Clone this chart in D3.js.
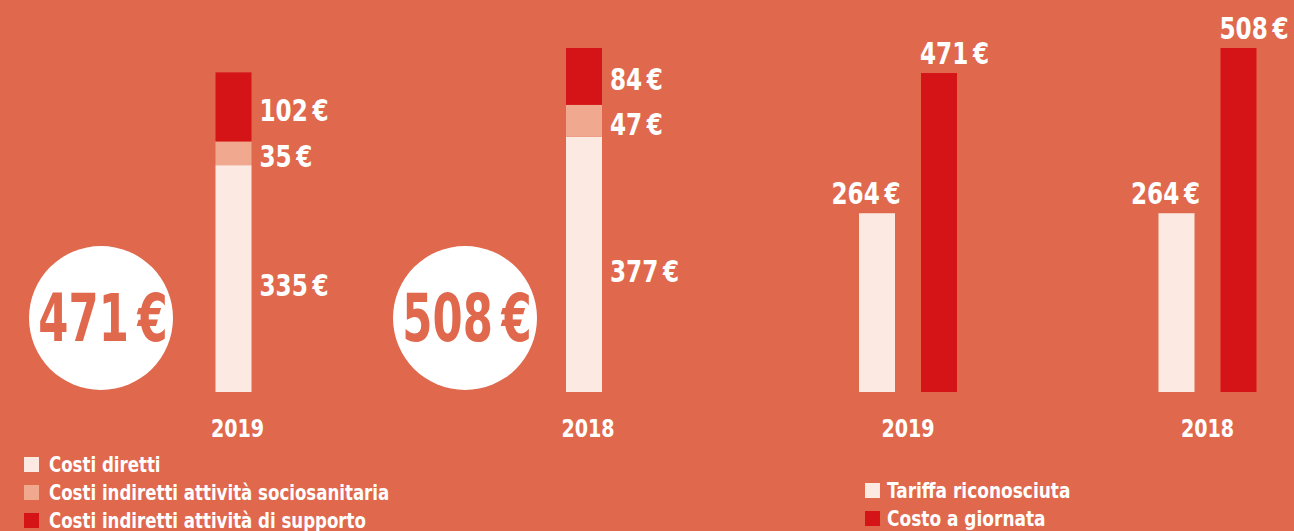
<!DOCTYPE html>
<html><head><meta charset="utf-8">
<script src="https://cdn.jsdelivr.net/npm/d3@7"></script>
<style>
html,body{margin:0;padding:0;background:#E0684D;}
svg{display:block;}
text{font-family:'Liberation Sans Narrow','DejaVu Sans Condensed','Roboto Condensed',sans-serif;font-weight:bold;}
</style></head><body>
<svg id="chart" width="1294" height="531"></svg>
<script>
// ---- data ----
const years = ["2019", "2018"];
const costiDiretti = [335, 377];
const costiIndirettiSocio = [35, 47];
const costiIndirettiSupporto = [102, 84];
const totali = [471, 508];
const tariffaRiconosciuta = [264, 264];
const costoGiornata = [471, 508];
const stackKeys = ["diretti", "socio", "supporto"];
const stackLabels = ["Costi diretti", "Costi indiretti attività sociosanitaria", "Costi indiretti attività di supporto"];
const groupKeys = ["tariffa", "costo"];
const groupLabels = ["Tariffa riconosciuta", "Costo a giornata"];

const BG = "#E0684D", LIGHT = "#FCE9E2", MID = "#F0A88E", RED = "#D51418";
const colorStack = d3.scaleOrdinal().domain(stackKeys).range([LIGHT, MID, RED]);
const colorGroup = d3.scaleOrdinal().domain(groupKeys).range([LIGHT, RED]);
const fmt = v => v + "\u202F€";

// horizontally condense text (the original uses a condensed typeface)
function narrow(sel, sx) {
  sel.each(function () {
    const t = d3.select(this);
    const x = +t.attr("x"), yy = +t.attr("y");
    t.attr("x", 0).attr("y", 0).attr("transform", `translate(${x},${yy}) scale(${sx},1)`);
  });
}

const svg = d3.select("#chart");
const y = d3.scaleLinear().domain([0, 508]).range([392, 48]);
const barW = 36;

// ---- left: stacked ----
const xL = d3.scalePoint().domain(years).range([233.5, 584]);
const table = years.map((yr, i) => ({year: yr, diretti: costiDiretti[i], socio: costiIndirettiSocio[i], supporto: costiIndirettiSupporto[i], total: totali[i]}));
const series = d3.stack().keys(stackKeys)(table);
const gL = svg.append("g");
series.forEach(s => {
  s.forEach(d => {
    gL.append("rect")
      .attr("x", xL(d.data.year) - barW / 2)
      .attr("y", y(d[1]))
      .attr("width", barW)
      .attr("height", y(d[0]) - y(d[1]))
      .attr("fill", colorStack(s.key));
    gL.append("text")
      .attr("x", xL(d.data.year) + barW / 2 + 8)
      .attr("y", (y(d[0]) + y(d[1])) / 2 + (s.key === "diretti" ? 9 : 5))
      .attr("dominant-baseline", "middle")
      .attr("font-size", 31)
      .attr("fill", "#fff")
      .text(fmt(d.data[s.key]))
      .call(narrow, 0.83);
  });
});
// circles with totals
table.forEach(d => {
  const cx = xL(d.year) - (d.year === "2019" ? 132.5 : 119);
  gL.append("circle").attr("cx", cx).attr("cy", 318).attr("r", 72).attr("fill", "#fff");
  gL.append("text").attr("x", cx + 2).attr("y", 318).attr("text-anchor", "middle")
    .attr("dominant-baseline", "central").attr("font-size", 66).attr("fill", BG)
    .text(fmt(d.total)).call(narrow, 0.73);
});
// year axis labels
gL.selectAll(".yl").data(years).join("text")
  .attr("x", d => xL(d) + 4).attr("y", 437).attr("text-anchor", "middle")
  .attr("font-size", 25).attr("fill", "#fff").text(d => d).call(narrow, 0.85);

// ---- right: grouped ----
const xR = d3.scalePoint().domain(years).range([908, 1207.5]);
const xSub = d3.scaleBand().domain(groupKeys).range([-49, 49]).paddingInner(26 / 62).paddingOuter(0);
const gR = svg.append("g");
years.forEach((yr, i) => {
  const vals = {tariffa: tariffaRiconosciuta[i], costo: costoGiornata[i]};
  groupKeys.forEach(k => {
    const x0 = xR(yr) + xSub(k);
    gR.append("rect").attr("x", x0).attr("y", y(vals[k]))
      .attr("width", xSub.bandwidth()).attr("height", y(0) - y(vals[k]))
      .attr("fill", colorGroup(k));
    const t = gR.append("text").attr("y", y(vals[k]) - 9)
      .attr("font-size", 31).attr("fill", "#fff").text(fmt(vals[k]));
    if (k === "costo") t.attr("x", x0 - 1).attr("text-anchor", "start");
    else t.attr("x", x0 + xSub.bandwidth() / 2 - 11).attr("text-anchor", "middle");
    t.call(narrow, 0.83);
  });
});
gR.selectAll(".yl").data(years).join("text")
  .attr("x", d => xR(d)).attr("y", 437).attr("text-anchor", "middle")
  .attr("font-size", 25).attr("fill", "#fff").text(d => d).call(narrow, 0.85);

// ---- legends ----
const legL = svg.append("g").attr("transform", "translate(24,457)");
stackKeys.forEach((k, i) => {
  legL.append("rect").attr("x", 0).attr("y", i * 28).attr("width", 15).attr("height", 15).attr("fill", colorStack(k));
  legL.append("text").attr("x", 25).attr("y", i * 28 + 8).attr("dominant-baseline", "central")
    .attr("font-size", 21).attr("fill", "#fff").text(stackLabels[i]).call(narrow, 0.88);
});
const legR = svg.append("g").attr("transform", "translate(865,483)");
groupKeys.forEach((k, i) => {
  legR.append("rect").attr("x", 0).attr("y", i * 28).attr("width", 15).attr("height", 15).attr("fill", colorGroup(k));
  legR.append("text").attr("x", 22).attr("y", i * 28 + 8).attr("dominant-baseline", "central")
    .attr("font-size", 21).attr("fill", "#fff").text(groupLabels[i]).call(narrow, 0.9);
});
</script>
</body></html>
